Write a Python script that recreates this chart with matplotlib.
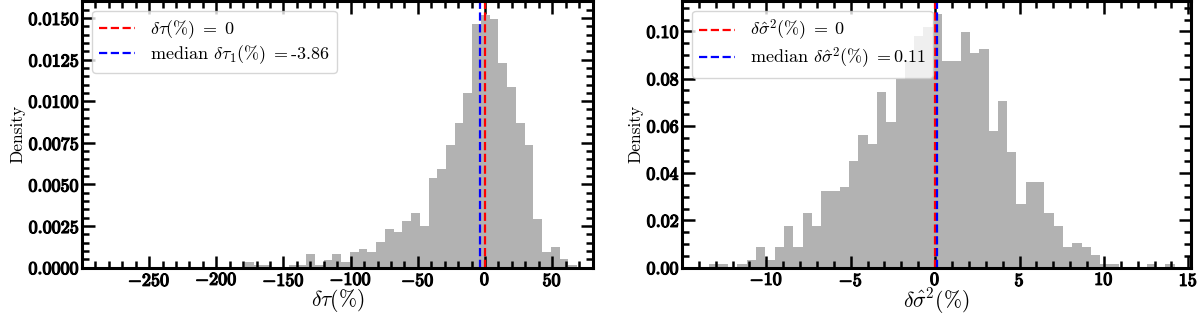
import numpy as np
import matplotlib
matplotlib.use("Agg")
import matplotlib.pyplot as plt
import matplotlib.patheffects as pe

plt.rcParams["font.family"] = "cmr10"
plt.rcParams["mathtext.fontset"] = "cm"
plt.rcParams["axes.unicode_minus"] = False
plt.rcParams["axes.formatter.use_mathtext"] = True

# --- left panel: delta tau (%) ---
tau_range = (-256.7, 68.5)
tau_density = [
    0.00006, 0, 0, 0, 0, 0, 0, 0, 0, 0,
    0, 0, 0.00033, 0.00016, 0.00016, 0, 0.00006, 0.00016, 0.00016, 0.0008,
    0.00016, 0.00046, 0.0008, 0.00033, 0.00096, 0.0011, 0.00096, 0.00154, 0.00234, 0.00216,
    0.0028, 0.00326, 0.0025, 0.0054, 0.0059, 0.00735, 0.0087, 0.0105, 0.01463, 0.01519,
    0.01493, 0.0123, 0.01085, 0.0087, 0.00735, 0.00294, 0.00096, 0.00124, 0.0005, 0.00016,
]
tau_median = -3.86
tau_xticks = [-250, -200, -150, -100, -50, 0, 50]
tau_yticks = [0.0, 0.0025, 0.005, 0.0075, 0.01, 0.0125, 0.015]

# --- right panel: delta sigma^2 (%) ---
sig_range = (-13.37, 14.19)
sig_density = [
    0.0014, 0.0014, 0, 0.0014, 0.0032, 0.0088, 0.0032, 0.0088, 0.0178, 0.0088,
    0.0232, 0.0178, 0.0325, 0.0325, 0.0341, 0.045, 0.0562, 0.0524, 0.0744, 0.0618,
    0.0797, 0.0874, 0.0979, 0.1017, 0.1075, 0.0874, 0.0874, 0.0999, 0.0909, 0.0926,
    0.058, 0.0706, 0.049, 0.0269, 0.0362, 0.0362, 0.0232, 0.0178, 0.0088, 0.0105,
    0.0088, 0.0052, 0.0014, 0.0014, 0, 0, 0, 0.0014, 0, 0.0014,
]
sig_median = 0.11
sig_xticks = [-10, -5, 0, 5, 10, 15]
sig_yticks = [0.0, 0.02, 0.04, 0.06, 0.08, 0.10]

bold = [pe.withStroke(linewidth=0.9, foreground="black")]


def panel(ax, rng, dens, median, xlab, zero_lab, med_lab, xticks, yticks, yfmt,
          xlim, ylim, xminor, yminor):
    edges = np.linspace(rng[0], rng[1], len(dens) + 1)
    centers = 0.5 * (edges[:-1] + edges[1:])
    ax.hist(centers, bins=edges, weights=dens, color="gray", alpha=0.6)
    ax.axvline(0, color="red", ls="--", lw=1.6, label=zero_lab)
    ax.axvline(median, color="blue", ls="--", lw=1.6, label=med_lab)

    ax.set_xlim(*xlim)
    ax.set_ylim(*ylim)
    ax.set_xticks(xticks, [r"$\mathbf{%d}$" % t for t in xticks])
    ax.set_yticks(yticks, [r"$\mathbf{" + yfmt.format(t) + "}$" for t in yticks])
    ax.set_xticks(np.arange(xticks[0] - 5 * xminor, xlim[1], xminor), minor=True)
    ax.set_yticks(np.arange(0, ylim[1], yminor), minor=True)

    ax.tick_params(which="both", direction="in", top=True, right=True, width=1.8)
    ax.tick_params(which="major", length=9, labelsize=13)
    ax.tick_params(which="minor", length=5)
    ax.tick_params(axis="x", which="major", pad=3)
    ax.tick_params(axis="y", which="major", pad=1.5)
    for lab in ax.get_xticklabels() + ax.get_yticklabels():
        lab.set_path_effects(bold)
    for s in ax.spines.values():
        s.set_linewidth(2.2)

    ax.set_xlabel(xlab, fontsize=15.5, labelpad=-1.5)
    ax.set_ylabel("Density", fontsize=12.5, labelpad=2)
    ax.legend(loc="upper left", fontsize=13, handlelength=2.0,
              labelspacing=0.12, borderaxespad=0.55)


fig = plt.figure(figsize=(12, 3.16), dpi=100)
ax1 = fig.add_axes([0.0683, 0.153, 0.4258, 0.844])
ax2 = fig.add_axes([0.5683, 0.153, 0.4242, 0.844])

panel(ax1, tau_range, tau_density, tau_median, r"$\delta\tau(\%)$",
      r"$\delta\tau(\%)\;=\;0$", r"median $\delta\tau_1(\%)\;=$" + "%.2f" % tau_median,
      tau_xticks, tau_yticks, "{:.4f}", (-274.5, 80.3), (0, 0.01602), 10, 0.0005)
panel(ax2, sig_range, sig_density, sig_median, r"$\delta\hat{\sigma}^2(\%)$",
      r"$\delta\hat{\sigma}^2(\%)\;=\;0$", r"median $\delta\hat{\sigma}^2(\%)\;=$" + "%.2f" % sig_median,
      sig_xticks, sig_yticks, "{:.2f}", (-14.78, 15.16), (0, 0.1129), 1, 0.005)

fig.savefig("out.png", dpi=100)
